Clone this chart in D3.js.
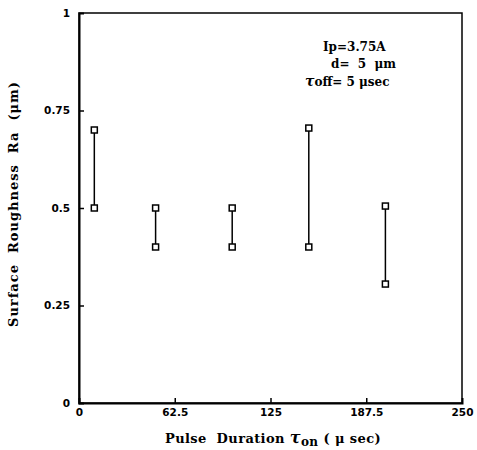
<!DOCTYPE html>
<html>
<head>
<meta charset="utf-8">
<script src="https://cdn.jsdelivr.net/npm/d3@7"></script>
<style>
  body { margin: 0; background: #fff; }
  svg { display: block; }
  .tick text { font-family: "DejaVu Sans", sans-serif; font-weight: bold; font-size: 10.5px; fill: #000; }
  .lbl { font-family: "DejaVu Serif", serif; font-weight: bold; fill: #000; white-space: pre; }
</style>
</head>
<body>
<div id="chart"></div>
<script>
// pulse duration (usec) and the two roughness readings at each one
var pulse = [10, 50, 100, 150, 200];
var raHigh = [0.70, 0.50, 0.50, 0.705, 0.505];
var raLow = [0.50, 0.40, 0.40, 0.40, 0.305];
var xTicks = [0, 62.5, 125, 187.5, 250];
var yTicks = [0, 0.25, 0.5, 0.75, 1];

var width = 477, height = 450;
var m = {left: 79, right: 15, top: 13, bottom: 47};

var svg = d3.select("#chart").append("svg")
    .attr("width", width).attr("height", height);

var x = d3.scaleLinear().domain([0, 250]).range([m.left, width - m.right]);
var y = d3.scaleLinear().domain([0, 1]).range([height - m.bottom, m.top]);

// frame
svg.append("rect")
    .attr("x", x(0)).attr("y", y(1))
    .attr("width", x(250) - x(0)).attr("height", y(0) - y(1))
    .attr("fill", "none").attr("stroke", "#000").attr("stroke-width", 1.5);

var fmt = function(d) { return String(d); };

var xa = svg.append("g")
    .attr("transform", "translate(0," + y(0) + ")")
    .call(d3.axisBottom(x).tickValues(xTicks).tickFormat(fmt).tickSize(-5).tickPadding(6));
var ya = svg.append("g")
    .attr("transform", "translate(" + x(0) + ",0)")
    .call(d3.axisLeft(y).tickValues(yTicks).tickFormat(fmt).tickSize(-5).tickPadding(9));

[xa, ya].forEach(function(a) {
    a.select(".domain").attr("stroke-width", 2);
    a.selectAll(".tick line").attr("stroke-width", 1.5);
});
// no tick marks on the corners
xa.selectAll(".tick line").filter(function(d) { return d === 0 || d === 250; }).remove();
ya.selectAll(".tick line").filter(function(d) { return d === 0 || d === 1; }).remove();

// range bars
var g = svg.append("g");
pulse.forEach(function(p, i) {
    g.append("line")
        .attr("x1", x(p)).attr("x2", x(p))
        .attr("y1", y(raHigh[i])).attr("y2", y(raLow[i]))
        .attr("stroke", "#000").attr("stroke-width", 1.5);
    [raHigh[i], raLow[i]].forEach(function(v) {
        g.append("rect")
            .attr("x", x(p) - 3).attr("y", y(v) - 3)
            .attr("width", 6).attr("height", 6)
            .attr("fill", "#fff").attr("stroke", "#000").attr("stroke-width", 1.5);
    });
});

// axis titles
svg.append("text").attr("class", "lbl")
    .attr("transform", "translate(18," + (y(0.5) - 4) + ") rotate(-90)")
    .attr("text-anchor", "middle").style("font-size", "13px")
    .style("letter-spacing", "1px")
    .text("Surface  Roughness  Ra  (\u03bcm)");

var xt = svg.append("text").attr("class", "lbl")
    .attr("x", 273).attr("y", 443)
    .attr("text-anchor", "middle").style("font-size", "13px")
    .style("letter-spacing", "0.4px");
xt.append("tspan").text("Pulse  Duration ");
xt.append("tspan").style("font-style", "italic").style("font-size", "16px").text("\u03c4");
xt.append("tspan").attr("dy", 3).style("font-size", "12px").text("on");
xt.append("tspan").attr("dy", -3).text(" ( \u03bc sec)");

// condition notes
var notes = svg.append("g").attr("class", "lbl").style("font-size", "12px");
notes.append("text").attr("x", 323).attr("y", 51).text("Ip=3.75A");
notes.append("text").attr("x", 331).attr("y", 68).text("d=\u00a0\u00a05\u00a0\u00a0\u03bcm");
var t3 = notes.append("text").attr("x", 305).attr("y", 86);
t3.append("tspan").style("font-style", "italic").style("font-size", "14px").text("\u03c4");
t3.append("tspan").text("off=\u00a05\u00a0\u03bcsec");
</script>
</body>
</html>
